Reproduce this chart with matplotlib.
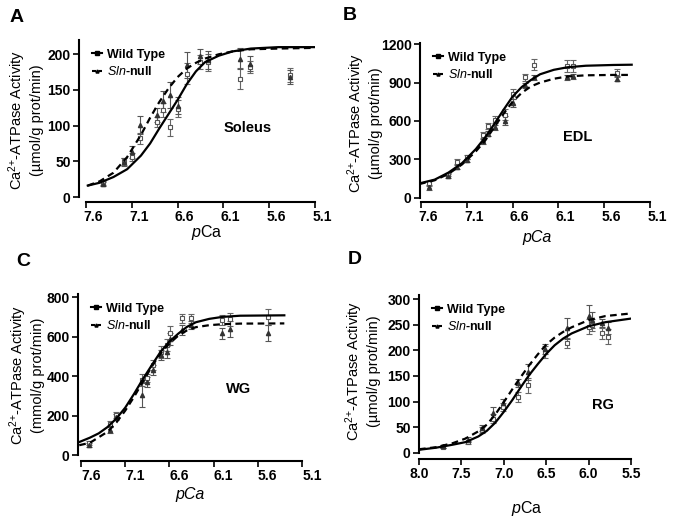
import matplotlib.pyplot as plt
from matplotlib.lines import Line2D
from matplotlib.transforms import ScaledTranslation

plt.rcParams['font.family'] = ['Liberation Sans', 'DejaVu Sans']
plt.rcParams['mathtext.fontset'] = 'custom'
plt.rcParams['mathtext.rm'] = 'Liberation Sans'
plt.rcParams['mathtext.it'] = 'Liberation Sans:italic'
plt.rcParams['mathtext.bf'] = 'Liberation Sans:bold'

# ---- A: Soleus ----
a_pca = [7.41, 7.19, 7.10, 7.01, 6.83, 6.76, 6.68, 6.59, 6.50, 6.36, 6.27, 5.92, 5.81, 5.37]
a_wt = [20, 50, 56, 82, 105, 122, 98, 124, 173, 189, 189, 166, 182, 171]
a_wt_err = [3, 5, 6, 8, 7, 10, 12, 12, 15, 10, 12, 15, 8, 10]
a_sln = [18, 49, 63, 101, 115, 134, 143, 128, 185, 197, 192, 194, 187, 168]
a_sln_err = [3, 5, 8, 13, 10, 15, 18, 12, 18, 10, 12, 15, 10, 10]
a_fit_pca = [7.58, 7.45, 7.30, 7.15, 7.00, 6.90, 6.80, 6.70, 6.60, 6.50, 6.40, 6.30, 6.15, 6.00, 5.80, 5.50, 5.10]
a_fit_wt = [16, 20, 28, 39, 58, 75, 96, 116, 136, 158, 176, 189, 198, 204, 208, 210, 210]
a_fit_sln = [16, 22, 34, 56, 87, 111, 133, 152, 168, 180, 188, 194, 200, 204, 207, 208, 209]

# ---- B: EDL ----
b_pca = [7.51, 7.30, 7.21, 7.10, 6.92, 6.87, 6.79, 6.68, 6.59, 6.46, 6.37, 6.01, 5.94, 5.46]
b_wt = [110, 180, 280, 320, 490, 560, 610, 650, 810, 940, 1040, 1030, 1030, 975]
b_wt_err = [20, 15, 20, 15, 25, 25, 25, 40, 40, 30, 45, 45, 45, 30]
b_sln = [80, 170, 240, 290, 440, 500, 550, 600, 740, 880, 940, 940, 950, 930]
b_sln_err = [20, 15, 15, 15, 20, 20, 20, 35, 30, 20, 20, 20, 20, 20]
b_fit_pca = [7.62, 7.45, 7.30, 7.15, 7.00, 6.90, 6.80, 6.70, 6.60, 6.50, 6.40, 6.30, 6.15, 6.00, 5.80, 5.50, 5.30]
b_fit_wt = [110, 140, 195, 270, 380, 470, 575, 685, 790, 865, 920, 965, 1000, 1020, 1032, 1038, 1040]
b_fit_sln = [105, 135, 185, 260, 362, 445, 550, 655, 750, 820, 870, 900, 930, 948, 957, 960, 960]

# ---- C: WG ----
c_pca = [7.51, 7.27, 7.20, 6.91, 6.85, 6.78, 6.69, 6.63, 6.59, 6.46, 6.36, 6.00, 5.91, 5.48]
c_wt = [61, 158, 204, 380, 389, 456, 523, 557, 616, 692, 692, 683, 687, 700]
c_wt_err = [10, 15, 15, 30, 20, 25, 30, 30, 40, 25, 25, 25, 35, 40]
c_sln = [52, 126, 193, 304, 372, 431, 506, 523, 590, 633, 658, 616, 640, 620]
c_sln_err = [10, 15, 15, 60, 25, 25, 25, 30, 30, 25, 20, 30, 40, 40]
c_fit_pca = [7.62, 7.50, 7.40, 7.30, 7.20, 7.10, 7.00, 6.90, 6.80, 6.70, 6.60, 6.50, 6.40, 6.30, 6.15, 6.00, 5.80, 5.30]
c_fit_wt = [66, 88, 110, 142, 185, 240, 310, 385, 455, 523, 575, 615, 650, 673, 690, 700, 706, 708]
c_fit_sln = [50, 62, 90, 118, 165, 225, 295, 372, 448, 515, 565, 605, 632, 648, 658, 663, 666, 667]

# ---- D: RG ----
d_pca = [7.72, 7.42, 7.26, 7.13, 7.01, 6.83, 6.71, 6.51, 6.26, 6.00, 5.96, 5.84, 5.77]
d_wt = [12, 21, 44, 67, 90, 109, 132, 197, 215, 246, 250, 233, 227]
d_wt_err = [3, 3, 6, 8, 8, 10, 15, 12, 10, 15, 12, 10, 15]
d_sln = [13, 26, 49, 78, 97, 136, 158, 203, 243, 268, 259, 253, 243]
d_sln_err = [3, 4, 6, 12, 8, 8, 15, 10, 20, 20, 15, 8, 12]
d_fit_pca = [8.0, 7.8, 7.6, 7.45, 7.3, 7.2, 7.1, 7.0, 6.9, 6.8, 6.7, 6.6, 6.5, 6.4, 6.3, 6.2, 6.0, 5.8, 5.5]
d_fit_wt = [6, 10, 16, 21, 32, 43, 59, 80, 103, 128, 152, 173, 193, 210, 223, 233, 247, 255, 262]
d_fit_sln = [7, 11, 19, 28, 42, 55, 75, 99, 124, 148, 171, 192, 211, 225, 236, 245, 259, 267, 272]

ticks_76 = [7.6, 7.1, 6.6, 6.1, 5.6, 5.1]
ticks_80 = [8.0, 7.5, 7.0, 6.5, 6.0, 5.5]

fig = plt.figure(figsize=(6.8, 5.24), dpi=100)
W, H = 680, 524


def px_axes(left, top, right, bottom):
    return fig.add_axes([left / W, 1 - bottom / H, (right - left) / W, (bottom - top) / H])


def draw_panel(ax, pca, wt, wt_err, sln, sln_err, fit_pca, fit_wt, fit_sln,
               xlim, xticks, xbounds, ylim, yticks, name, name_xy, label_shift):
    ax.plot(fit_pca, fit_wt, color='black', lw=1.6, zorder=3)
    ax.plot(fit_pca, fit_sln, color='black', lw=1.6, ls=(0, (3, 2)), zorder=3)
    ax.errorbar(pca, wt, yerr=wt_err, fmt='s', ms=3.0, mfc='white', mec='#555555',
                mew=0.8, ecolor='#666666', elinewidth=0.8, capsize=2, capthick=0.8, zorder=2)
    ax.errorbar(pca, sln, yerr=sln_err, fmt='^', ms=3.0, mfc='#333333', mec='#333333',
                ecolor='#555555', elinewidth=0.8, capsize=2, capthick=0.8, zorder=2)
    ax.set_xlim(*xlim)
    ax.set_ylim(*ylim)
    ax.set_xticks(xticks)
    ax.set_xticklabels(['%.1f' % t for t in xticks])
    ax.set_yticks(yticks)
    ax.spines['top'].set_visible(False)
    ax.spines['right'].set_visible(False)
    ax.spines['left'].set_bounds(0, ylim[1])
    ax.spines['bottom'].set_bounds(*xbounds)
    for s in ('left', 'bottom'):
        ax.spines[s].set_linewidth(1.5)
    ax.tick_params(direction='out', length=4, width=1.2, labelsize=10, pad=2)
    for lab in ax.get_xticklabels() + ax.get_yticklabels():
        lab.set_fontweight('bold')
    if label_shift:
        off = ScaledTranslation(label_shift / 100, 0, fig.dpi_scale_trans)
        for lab in ax.get_xticklabels():
            lab.set_transform(lab.get_transform() + off)
    ax.text(name_xy[0], name_xy[1], name, fontsize=10.5, fontweight='bold',
            ha='center', va='center')
    handles = [Line2D([], [], color='black', lw=1.5, marker='s', ms=2.2),
               Line2D([], [], color='black', lw=1.5, ls=(0, (2, 1)), marker='^', ms=2.2)]
    ax.legend(handles, ['Wild Type', '$\\mathbf{\\it{Sln}}$-null'], loc='upper left',
              bbox_to_anchor=(0.02, 1.0), frameon=False, handlelength=0.8,
              handletextpad=0.4, borderpad=0.2, labelspacing=0.35,
              prop={'size': 9, 'weight': 'bold'})


axA = px_axes(79, 40, 315, 202)
draw_panel(axA, a_pca, a_wt, a_wt_err, a_sln, a_sln_err, a_fit_pca, a_fit_wt, a_fit_sln,
           (7.676, 5.1), ticks_76, (7.6, 5.1), (-7, 220), [0, 50, 100, 150, 200],
           'Soleus', (5.84, 97), 7)

axB = px_axes(420, 43, 650, 202)
draw_panel(axB, b_pca, b_wt, b_wt_err, b_sln, b_sln_err, b_fit_pca, b_fit_wt, b_fit_sln,
           (7.61, 5.1), ticks_76, (7.6, 5.1), (-35, 1210), [0, 300, 600, 900, 1200],
           'EDL', (5.89, 473), 7)

axC = px_axes(78, 294, 302, 461)
draw_panel(axC, c_pca, c_wt, c_wt_err, c_sln, c_sln_err, c_fit_pca, c_fit_wt, c_fit_sln,
           (7.634, 5.1), ticks_76, (7.6, 5.1), (-30, 816), [0, 200, 400, 600, 800],
           'WG', (5.82, 335), 10)

axD = px_axes(419, 295, 631, 459)
draw_panel(axD, d_pca, d_wt, d_wt_err, d_sln, d_sln_err, d_fit_pca, d_fit_wt, d_fit_sln,
           (8.0, 5.5), ticks_80, (8.0, 5.5), (-12, 308), [0, 50, 100, 150, 200, 250, 300],
           'RG', (5.83, 93), 0)

# y labels
ylab = 'Ca$^{2{+}}$-ATPase Activity\n(%s/g prot/min)'
for (x, y), unit in [((25, 120), 'µmol'), ((364, 123), 'µmol'),
                     ((26, 375), 'mmol'), ((362, 371), 'µmol')]:
    fig.text(x / W, 1 - y / H, ylab % unit, rotation=90, ha='center', va='center',
             fontsize=10.5, linespacing=1.15, multialignment='center')

# x labels
fig.text(207 / W, 1 - 233 / H, '$p$Ca', ha='center', va='center', fontsize=11.5)
fig.text(537 / W, 1 - 238 / H, 'pCa', ha='center', va='center', fontsize=11.5, style='italic')
fig.text(190 / W, 1 - 495 / H, 'pCa', ha='center', va='center', fontsize=11.5, style='italic')
fig.text(527 / W, 1 - 509 / H, '$p$Ca', ha='center', va='center', fontsize=11.5)

# panel letters
for (x, y), letter in [((17, 17), 'A'), ((350, 15), 'B'), ((23, 262), 'C'), ((355, 260), 'D')]:
    fig.text(x / W, 1 - y / H, letter, ha='center', va='center', fontsize=14, fontweight='bold')

fig.savefig('out.png', dpi=100)
